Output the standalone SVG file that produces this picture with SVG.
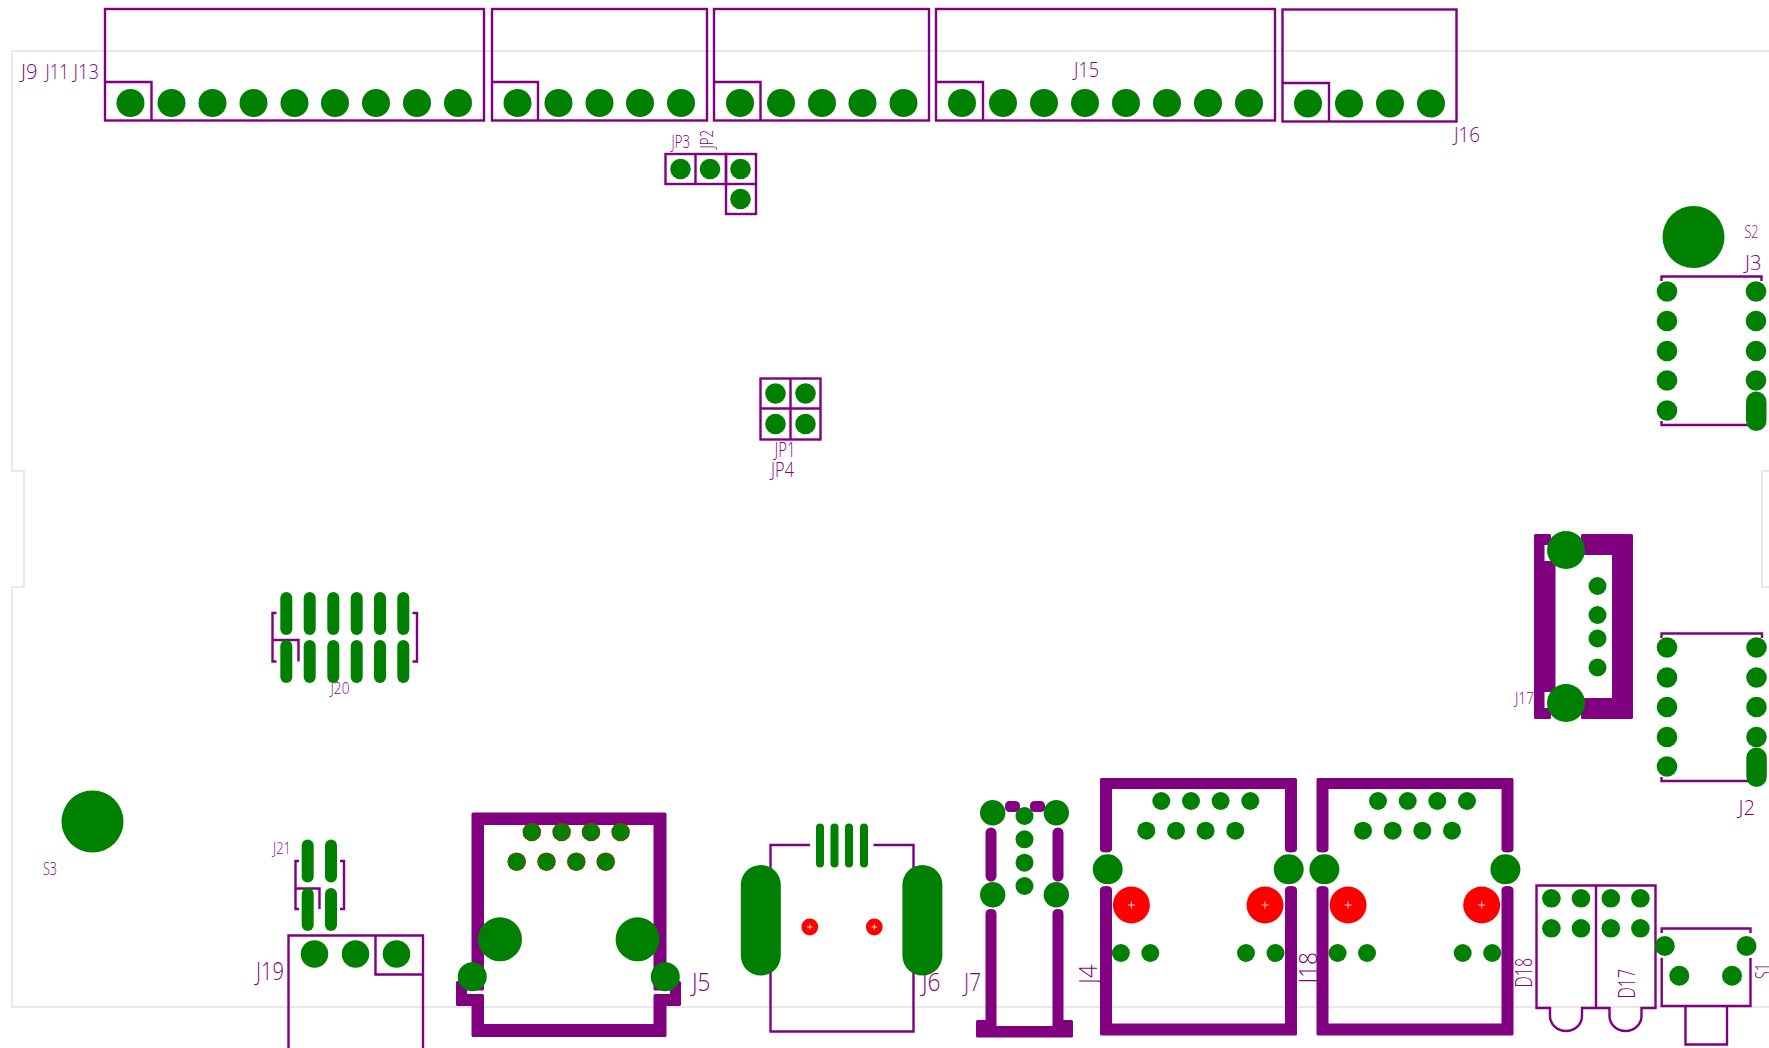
<svg xmlns="http://www.w3.org/2000/svg" width="1769" height="1048" viewBox="0 0 1769 1048">
<style>
.b{fill:none;stroke:#800080;stroke-width:2.4}
.f{fill:#800080;stroke:#800080;stroke-width:3;stroke-linejoin:round}
.g{fill:#008000}
.r{fill:#ff0000}
.x{stroke:#fff;stroke-width:.8;fill:none}
text{font-family:"Open Sans","Liberation Sans",sans-serif;font-weight:300;fill:#800080}
</style>
<rect width="1769" height="1048" fill="#fff"/>
<path id="board" d="M1775 51H12V471H24V587H12V1007H1775M1775 471H1762V587H1775" fill="none" stroke="#e8e8e8" stroke-width="2"/>

<g id="J9"><rect class="b" x="105" y="9" width="379" height="111.500"/><path class="b" d="M105 82H151.500V120.500"/>
<g class="g"><circle cx="130.500" cy="103" r="14"/><circle cx="171.500" cy="103" r="14"/><circle cx="212.500" cy="103" r="14"/><circle cx="253.500" cy="103" r="14"/><circle cx="294.500" cy="103" r="14"/><circle cx="335" cy="103" r="14"/><circle cx="376" cy="103" r="14"/><circle cx="417" cy="103" r="14"/><circle cx="458" cy="103" r="14"/></g>
<text x="21" y="78.500" font-size="21" textLength="16.500" lengthAdjust="spacingAndGlyphs">J9</text><text x="45.500" y="78.500" font-size="21" textLength="23.500" lengthAdjust="spacingAndGlyphs">J11</text><text x="73.500" y="78.500" font-size="21" textLength="25.500" lengthAdjust="spacingAndGlyphs">J13</text></g>

<g id="J11"><rect class="b" x="492" y="9" width="215" height="111.500"/><path class="b" d="M492 82H538V120.500"/>
<g class="g"><circle cx="517.500" cy="103" r="14"/><circle cx="558.500" cy="103" r="14"/><circle cx="599.500" cy="103" r="14"/><circle cx="640" cy="103" r="14"/><circle cx="681" cy="103" r="14"/></g></g>

<g id="J13"><rect class="b" x="714" y="9" width="215" height="111.500"/><path class="b" d="M714 82H760.500V120.500"/>
<g class="g"><circle cx="740" cy="103" r="14"/><circle cx="781" cy="103" r="14"/><circle cx="822" cy="103" r="14"/><circle cx="862.500" cy="103" r="14"/><circle cx="903.500" cy="103" r="14"/></g></g>

<g id="J15"><rect class="b" x="936" y="9" width="339" height="111.500"/><path class="b" d="M936 82H983V120.500"/>
<g class="g"><circle cx="962" cy="103" r="14"/><circle cx="1003" cy="103" r="14"/><circle cx="1044" cy="103" r="14"/><circle cx="1085" cy="103" r="14"/><circle cx="1126" cy="103" r="14"/><circle cx="1167" cy="103" r="14"/><circle cx="1208" cy="103" r="14"/><circle cx="1249" cy="103" r="14"/></g>
<text x="1074" y="76.500" font-size="21" textLength="25" lengthAdjust="spacingAndGlyphs">J15</text></g>

<g id="J16"><rect class="b" x="1282.500" y="9.500" width="174" height="112"/><path class="b" d="M1282.500 83H1329V121.500"/>
<g class="g"><circle cx="1308" cy="103.500" r="14"/><circle cx="1349" cy="103.500" r="14"/><circle cx="1390" cy="103.500" r="14"/><circle cx="1431" cy="103.500" r="14"/></g>
<text x="1454" y="142" font-size="21" textLength="26" lengthAdjust="spacingAndGlyphs">J16</text></g>

<g id="JP3"><rect class="b" x="665.500" y="154" width="60.500" height="30"/><path class="b" d="M695.500 154V184"/>
<g class="g"><circle cx="680.500" cy="169" r="10.300"/><circle cx="710" cy="169" r="10.300"/></g>
<text x="671.500" y="147.500" font-size="17.500" textLength="18.500" lengthAdjust="spacingAndGlyphs">JP3</text></g>

<g id="JP2"><rect class="b" x="726" y="154" width="30" height="60"/><path class="b" d="M726 184H756"/>
<g class="g"><circle cx="740.500" cy="169" r="10.300"/><circle cx="740.500" cy="199" r="10.300"/></g>
<text transform="rotate(-90 713 148.500)" x="713" y="148.500" font-size="17.500" textLength="18.500" lengthAdjust="spacingAndGlyphs">JP2</text></g>

<g id="JP1"><rect class="b" x="760.500" y="378.500" width="60" height="61"/><path class="b" d="M790.500 378.500V439.500M760.500 408.500H820.500"/>
<g class="g"><circle cx="775.500" cy="393.500" r="10.300"/><circle cx="805.500" cy="393.500" r="10.300"/><circle cx="775.500" cy="424" r="10.300"/><circle cx="805.500" cy="424" r="10.300"/></g>
<text x="774.500" y="456.700" font-size="21" textLength="21" lengthAdjust="spacingAndGlyphs">JP1</text><text x="771" y="476.700" font-size="21" textLength="23" lengthAdjust="spacingAndGlyphs">JP4</text></g>

<g id="S2"><circle class="g" cx="1693.500" cy="237" r="31"/><text x="1744.500" y="237.500" font-size="18" textLength="14" lengthAdjust="spacingAndGlyphs">S2</text></g>

<g id="J3"><path class="b" d="M1661.500 281V276.500H1761.500V281M1661.500 421V425H1750"/>
<g class="g"><circle cx="1667" cy="291.500" r="10.300"/><circle cx="1667" cy="321" r="10.300"/><circle cx="1667" cy="351" r="10.300"/><circle cx="1667" cy="380.500" r="10.300"/><circle cx="1667" cy="410.500" r="10.300"/><circle cx="1756" cy="291.500" r="10.300"/><circle cx="1756" cy="321" r="10.300"/><circle cx="1756" cy="351" r="10.300"/><circle cx="1756" cy="380.500" r="10.300"/><rect x="1746" y="391.500" width="20.500" height="39.500" rx="10.200"/></g>
<text x="1745" y="270" font-size="21" textLength="16.500" lengthAdjust="spacingAndGlyphs">J3</text></g>

<g id="J17"><path class="f" d="M1535.500 535.500H1549.500V543.500H1543V562.500H1554V690.500H1543V709.500H1549.500V717.500H1535.500ZM1582.500 535.500H1631.500V717.500H1582.500V699.500H1613.500V553.500H1582.500Z"/>
<g class="g"><circle cx="1566" cy="550" r="19"/><circle cx="1566" cy="703" r="19"/><circle cx="1597.500" cy="586" r="9"/><circle cx="1597.500" cy="615" r="9"/><circle cx="1597.500" cy="638.500" r="9"/><circle cx="1597.500" cy="667.500" r="9"/></g>
<text x="1515" y="704" font-size="17" textLength="19" lengthAdjust="spacingAndGlyphs">J17</text></g>

<g id="J2"><path class="b" d="M1661.500 638V633.500H1762V638M1661.500 777V781H1750"/>
<g class="g"><circle cx="1667" cy="647.500" r="10.300"/><circle cx="1667" cy="677.500" r="10.300"/><circle cx="1667" cy="707" r="10.300"/><circle cx="1667" cy="737" r="10.300"/><circle cx="1667" cy="766.500" r="10.300"/><circle cx="1756.500" cy="647.500" r="10.300"/><circle cx="1756.500" cy="677.500" r="10.300"/><circle cx="1756.500" cy="707" r="10.300"/><circle cx="1756.500" cy="737" r="10.300"/><rect x="1746.300" y="747.500" width="20.500" height="39.500" rx="10.200"/></g>
<text x="1738.500" y="815" font-size="21" textLength="16.500" lengthAdjust="spacingAndGlyphs">J2</text></g>

<g id="J20"><path class="b" d="M276.500 613H272.500V661.500H276.500M412.500 613H417V661.500H412.500M272.500 640H298.500V661.500"/>
<g class="g"><rect x="280.300" y="592" width="12" height="43" rx="6"/><rect x="303.700" y="592" width="12" height="43" rx="6"/><rect x="327.300" y="592" width="12" height="43" rx="6"/><rect x="350.700" y="592" width="12" height="43" rx="6"/><rect x="374" y="592" width="12" height="43" rx="6"/><rect x="397.300" y="592" width="12" height="43" rx="6"/><rect x="280.300" y="640" width="12" height="43" rx="6"/><rect x="303.700" y="640" width="12" height="43" rx="6"/><rect x="327.300" y="640" width="12" height="43" rx="6"/><rect x="350.700" y="640" width="12" height="43" rx="6"/><rect x="374" y="640" width="12" height="43" rx="6"/><rect x="397.300" y="640" width="12" height="43" rx="6"/></g>
<text x="330.500" y="694" font-size="17" textLength="19" lengthAdjust="spacingAndGlyphs">J20</text></g>

<g id="S3"><circle class="g" cx="92.500" cy="821.500" r="31"/><text x="43" y="875" font-size="18" textLength="14" lengthAdjust="spacingAndGlyphs">S3</text></g>

<g id="J21"><path class="b" d="M299 861H295.500V909H299M340 861H344V909H340M295.500 888.500H319.500V909"/>
<g class="g"><rect x="301.700" y="839.500" width="12" height="43" rx="6"/><rect x="325" y="839.500" width="12" height="43" rx="6"/><rect x="301.700" y="888" width="12" height="43" rx="6"/><rect x="325" y="888" width="12" height="43" rx="6"/></g>
<text x="273" y="854" font-size="17" textLength="18" lengthAdjust="spacingAndGlyphs">J21</text></g>

<g id="J19"><path class="b" d="M288.500 1048V935.500H423V1048M375.500 935.500V974.500H423"/>
<g class="g"><circle cx="314.500" cy="954" r="13.800"/><circle cx="355.500" cy="954" r="13.800"/><circle cx="396.500" cy="954" r="13.800"/></g>
<text x="256" y="980" font-size="25" textLength="28" lengthAdjust="spacingAndGlyphs">J19</text></g>

<g id="J5"><path class="f" d="M473 989V814H665V989H655V823.500H482.500V989Z"/>
<path class="f" d="M457.500 982.500H465.500V995.500H482.500V1025.500H655V995.500H671.500V982.500H679.500V1004.500H665V1035.500H473V1004.500H457.500Z"/>
<g class="r"><circle cx="531.800" cy="832" r="9.300"/><circle cx="561.600" cy="832" r="9.300"/><circle cx="591" cy="832" r="9.300"/><circle cx="620.600" cy="832" r="9.300"/><circle cx="516.700" cy="861.700" r="9.300"/><circle cx="546.500" cy="861.700" r="9.300"/><circle cx="576.300" cy="861.700" r="9.300"/><circle cx="605.700" cy="861.700" r="9.300"/></g>
<g class="g"><circle cx="531.800" cy="832" r="8.800"/><circle cx="561.600" cy="832" r="8.800"/><circle cx="591" cy="832" r="8.800"/><circle cx="620.600" cy="832" r="8.800"/><circle cx="516.700" cy="861.700" r="8.800"/><circle cx="546.500" cy="861.700" r="8.800"/><circle cx="576.300" cy="861.700" r="8.800"/><circle cx="605.700" cy="861.700" r="8.800"/><circle cx="500" cy="939.300" r="22"/><circle cx="637.600" cy="939.300" r="22"/><circle cx="472.200" cy="976.700" r="14.500"/><circle cx="665.300" cy="976.700" r="14.500"/></g>
<text x="692" y="991.300" font-size="26" textLength="18.500" lengthAdjust="spacingAndGlyphs">J5</text></g>

<g id="J6"><path class="b" d="M810 845H770.500V1031.500H913.500V845H873.500"/>
<g class="g"><rect x="740.800" y="865" width="40" height="110.500" rx="20"/><rect x="902.400" y="865" width="40" height="110.500" rx="20"/><rect x="816" y="823.500" width="8" height="44" rx="4"/><rect x="830.500" y="823.500" width="8" height="44" rx="4"/><rect x="845" y="823.500" width="8" height="44" rx="4"/><rect x="860" y="823.500" width="8" height="44" rx="4"/></g>
<g class="r"><circle cx="809.800" cy="927" r="8.400"/><circle cx="874.300" cy="927" r="8.400"/></g>
<path class="x" d="M807 927H812.600M809.800 924.200V929.800M871.500 927H877.100M874.300 924.200V929.800"/>
<text x="922" y="990.500" font-size="26" textLength="18.500" lengthAdjust="spacingAndGlyphs">J6</text></g>

<g id="J7"><g class="f"><rect x="987" y="829" width="8" height="51" rx="4"/><rect x="1054" y="829" width="8" height="51" rx="4"/><path d="M987 914Q987 910.500 991 910.500T995 914V1027.500H1054V914Q1054 910.500 1058 910.500T1062 914V1021.500H1071.500V1036H977.500V1021.500H987Z"/><rect x="1006.500" y="802.500" width="12" height="8" rx="3"/><rect x="1031.500" y="802.500" width="12" height="8" rx="3"/></g>
<g class="g"><circle cx="992.700" cy="812.700" r="12.700"/><circle cx="1056.300" cy="812.700" r="12.700"/><circle cx="992.700" cy="894.700" r="12.700"/><circle cx="1056.300" cy="894.700" r="12.700"/><circle cx="1024.500" cy="816" r="9"/><circle cx="1024.500" cy="839.300" r="9"/><circle cx="1024.500" cy="862.700" r="9"/><circle cx="1024.500" cy="886" r="9"/></g>
<text x="964" y="990.500" font-size="26" textLength="17" lengthAdjust="spacingAndGlyphs">J7</text></g>

<g id="J4"><path class="f" d="M1101.500 849V779.500H1295.500V849Q1295.500 851 1291 851T1286.500 849V787.500H1110.500V849Q1110.500 851 1106 851T1101.500 849Z"/><path class="f" d="M1101.500 890Q1101.500 887.500 1106 887.500T1110.500 890V1025H1286.500V890Q1286.500 887.500 1291 887.500T1295.500 890V1034H1101.500Z"/>
<g class="g"><circle cx="1107.700" cy="869.300" r="15"/><circle cx="1288.700" cy="869.300" r="15"/><circle cx="1161.300" cy="801" r="9"/><circle cx="1191" cy="801" r="9"/><circle cx="1220.600" cy="801" r="9"/><circle cx="1250.300" cy="801" r="9"/><circle cx="1146.300" cy="830.700" r="9"/><circle cx="1176" cy="830.700" r="9"/><circle cx="1205.600" cy="830.700" r="9"/><circle cx="1235.300" cy="830.700" r="9"/><circle cx="1120.900" cy="953" r="9"/><circle cx="1150.300" cy="953" r="9"/><circle cx="1246" cy="953" r="9"/><circle cx="1275.500" cy="953" r="9"/></g>
<g class="r"><circle cx="1131.400" cy="905" r="18.500"/><circle cx="1265" cy="905" r="18.500"/></g>
<path class="x" d="M1128 905H1135M1131.400 901.500V908.500M1261.500 905H1268.500M1265 901.500V908.500"/>
<text transform="rotate(-90 1097 984)" x="1097" y="984" font-size="26" textLength="19.500" lengthAdjust="spacingAndGlyphs">J4</text></g>

<g id="J18"><path class="f" d="M1318 849V779.500H1512V849Q1512 851 1507.500 851T1503 849V787.500H1327V849Q1327 851 1322.500 851T1318 849Z"/><path class="f" d="M1318 890Q1318 887.500 1322.500 887.500T1327 890V1025H1503V890Q1503 887.500 1507.500 887.500T1512 890V1034H1318Z"/>
<g class="g"><circle cx="1324.400" cy="869.300" r="15"/><circle cx="1505.400" cy="869.300" r="15"/><circle cx="1378" cy="801" r="9"/><circle cx="1407.700" cy="801" r="9"/><circle cx="1437.300" cy="801" r="9"/><circle cx="1467" cy="801" r="9"/><circle cx="1363" cy="830.700" r="9"/><circle cx="1392.700" cy="830.700" r="9"/><circle cx="1422.300" cy="830.700" r="9"/><circle cx="1452" cy="830.700" r="9"/><circle cx="1337.600" cy="953" r="9"/><circle cx="1367" cy="953" r="9"/><circle cx="1462.700" cy="953" r="9"/><circle cx="1492.200" cy="953" r="9"/></g>
<g class="r"><circle cx="1348.100" cy="905" r="18.500"/><circle cx="1481.700" cy="905" r="18.500"/></g>
<path class="x" d="M1344.700 905H1351.700M1348.100 901.500V908.500M1478.200 905H1485.200M1481.700 901.500V908.500"/>
<text transform="rotate(-90 1317 983.500)" x="1317" y="983.500" font-size="26" textLength="31.500" lengthAdjust="spacingAndGlyphs">J18</text></g>

<g id="D18"><path class="b" d="M1550 1008H1536.500V885.500H1596V1008H1582V1016A16 15 0 0 1 1550 1016Z"/>
<g class="g"><circle cx="1551.400" cy="898.300" r="9.300"/><circle cx="1581" cy="898.300" r="9.300"/><circle cx="1551.400" cy="928.300" r="9.300"/><circle cx="1581" cy="928.300" r="9.300"/></g>
<text transform="rotate(-90 1531.500 987.500)" x="1531.500" y="987.500" font-size="23" textLength="29.500" lengthAdjust="spacingAndGlyphs">D18</text></g>

<g id="D17"><path class="b" d="M1596 1008H1609.500V1016A16 15 0 0 0 1641.500 1016V1008H1655.500V885.500H1596"/>
<g class="g"><circle cx="1610.800" cy="898.300" r="9.300"/><circle cx="1640.400" cy="898.300" r="9.300"/><circle cx="1610.800" cy="928.300" r="9.300"/><circle cx="1640.400" cy="928.300" r="9.300"/></g>
<text transform="rotate(-90 1634.500 998.500)" x="1634.500" y="998.500" font-size="23" textLength="29.500" lengthAdjust="spacingAndGlyphs">D17</text></g>

<g id="S1"><path class="b" d="M1661.700 933V928.500H1750.500V933M1661.700 958V1006H1750.500V958M1685.500 1006V1044.500H1727V1006"/>
<g class="g"><circle cx="1664.800" cy="946" r="10"/><circle cx="1746.500" cy="946" r="10"/><circle cx="1679.300" cy="975.700" r="10"/><circle cx="1732" cy="975.700" r="10"/></g>
<text transform="rotate(-90 1771 979)" x="1771" y="979" font-size="22" textLength="16" lengthAdjust="spacingAndGlyphs">S1</text></g>
</svg>
